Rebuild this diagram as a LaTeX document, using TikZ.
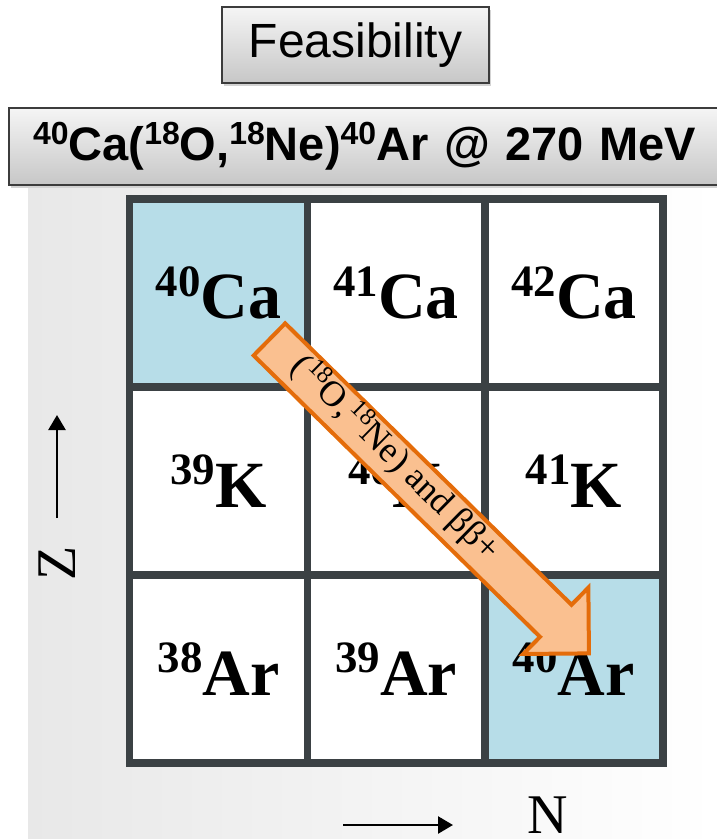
\documentclass[tikz,border=0pt]{standalone}
\usepackage{fontspec}
\setmainfont{Liberation Serif}
\setsansfont{Liberation Sans}
\usepackage{graphicx}
\usetikzlibrary{positioning, arrows.meta, shapes.arrows, shadows}
\definecolor{gridgray}{RGB}{59,65,68}
\definecolor{cellblue}{RGB}{183,221,232}
\definecolor{arroworange}{RGB}{228,108,10}
\definecolor{arrowfill}{RGB}{250,192,144}
\definecolor{boxedge}{RGB}{60,60,60}
\newcommand{\massno}[1]{\raisebox{0.34em}{\scalebox{0.68}{#1}}}

\begin{document}
\begin{tikzpicture}[
    x=1pt, y=-1pt,
    titlebox/.style={rectangle, draw=boxedge, line width=1.2pt, top color=black!4, bottom color=black!22, drop shadow={shadow xshift=2pt, shadow yshift=-3pt, opacity=0.35}, inner sep=0pt},
    cell/.style={rectangle, draw=gridgray, line width=7.5pt, fill=white, minimum width=177.7pt, minimum height=188pt, outer sep=0pt, inner sep=0pt, font=\fontsize{66}{70}\selectfont\bfseries},
    bluecell/.style={cell, fill=cellblue},
    bigarrow/.style={single arrow, draw=arroworange, fill=arrowfill, line width=4pt, single arrow tip angle=90, single arrow head extend=24pt, inner xsep=0pt, inner ysep=20.5pt, minimum width=89pt, minimum height=448pt},
    flowtext/.style={font=\fontsize{36}{38}\selectfont, inner sep=0pt},
    axislabel/.style={font=\fontsize{56}{60}\selectfont, inner sep=0pt},
    axisarrow/.style={-{Triangle[length=15pt, width=17pt]}, line width=2.5pt}
]
\useasboundingbox (0,0) rectangle (716,839);

% Panel
\fill[left color=black!9, right color=white] (28,188) rectangle (716,839);

% Titles
\node[titlebox, minimum width=267pt, minimum height=76pt, font=\sffamily\fontsize{48}{50}\selectfont] (feas) at (355.5,45) {Feasibility};
\node[titlebox, minimum width=721pt, minimum height=77pt, text width=673pt, align=left, font=\sffamily\bfseries\fontsize{47}{50}\selectfont] (reaction) at (369.5,146.5)
    {\massno{40}Ca(\massno{18}O,\massno{18}Ne)\massno{40}Ar @ 270 MeV};

% Chart of nuclides
\node[bluecell] (ca40) at (218.5,293) {\massno{40}Ca};
\node[cell, right=0pt of ca40] (ca41) {\massno{41}Ca};
\node[cell, right=0pt of ca41] (ca42) {\massno{42}Ca};
\node[cell, below=0pt of ca40] (k39) {\massno{39}K};
\node[cell, right=0pt of k39] (k40) {\massno{40}K};
\node[cell, right=0pt of k40] (k41) {\massno{41}K};
\node[cell, below=0pt of k39] (ar38) {\massno{38}Ar};
\node[cell, right=0pt of ar38] (ar39) {\massno{39}Ar};
\node[bluecell, right=0pt of ar39] (ar40) {\massno{40}Ar};

% Double charge exchange
\coordinate (flowtail) at (268,338);
\node[bigarrow, anchor=tail, rotate=-44.5] (flow) at (flowtail) {};
\node[flowtext, rotate=-44.5] (flowlabel) at (396,458) {(\massno{18}O,\massno{18}Ne) and ββ+};

% Axes
\coordinate (zfrom) at (57,518);
\coordinate (zto) at (57,415);
\draw[axisarrow] (zfrom) -- (zto);
\node[axislabel, rotate=90] (zlab) at (57,563) {Z};
\coordinate (nfrom) at (343,825);
\coordinate (nto) at (453,825);
\draw[axisarrow] (nfrom) -- (nto);
\node[axislabel] (nlab) at (548,815.5) {N};

\end{tikzpicture}
\end{document}
